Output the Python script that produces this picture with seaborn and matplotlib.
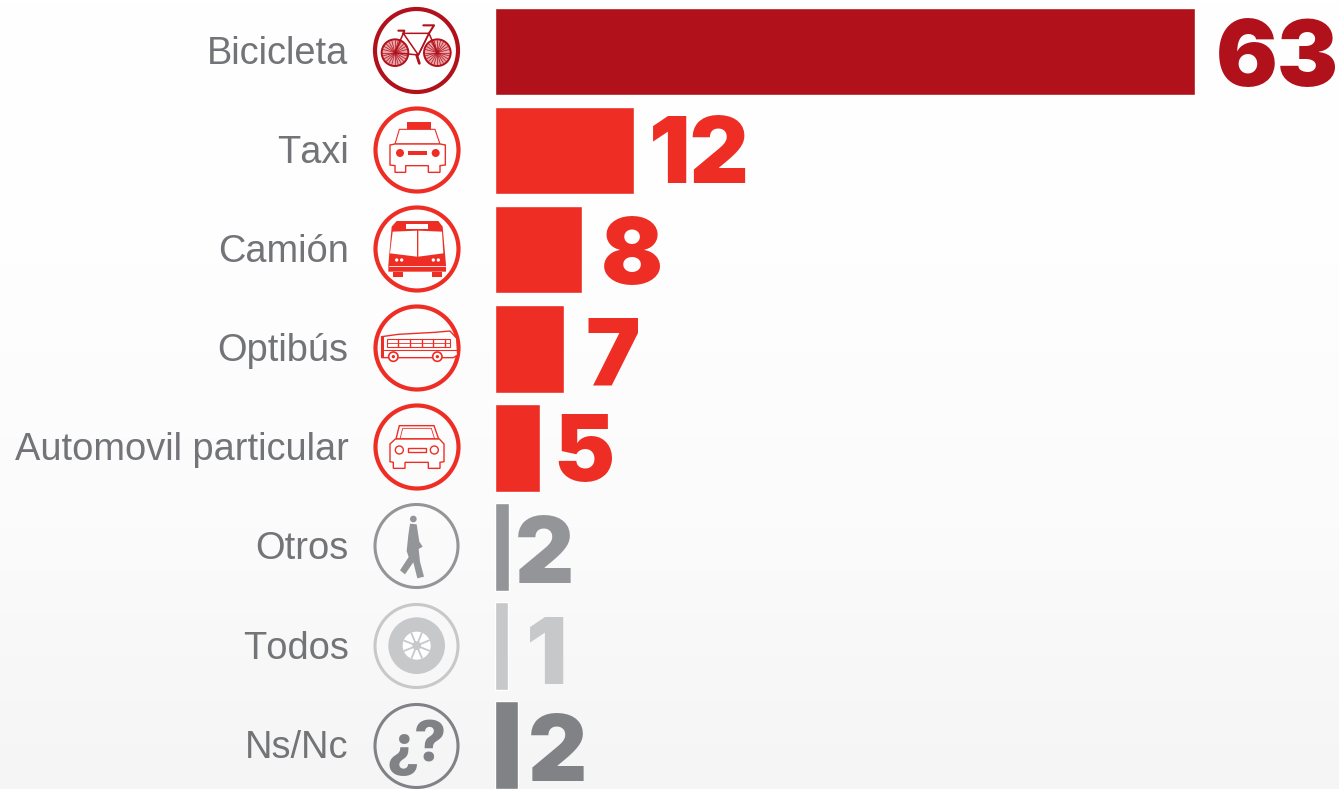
import numpy as np
import pandas as pd
import matplotlib
matplotlib.use("Agg")
import matplotlib.pyplot as plt
from matplotlib.patches import Circle, Polygon
from matplotlib.colors import LinearSegmentedColormap
from matplotlib.transforms import ScaledTranslation
import seaborn as sns

categories = ["Bicicleta", "Taxi", "Camión", "Optibús", "Automovil particular", "Otros", "Todos", "Ns/Nc"]
value_labels = ["63", "12", "8", "7", "5", "2", "1", "2"]
# bar lengths as drawn in the picture (they are not strictly proportional to the labels)
bar_lengths = [63.0, 12.45, 7.75, 6.13, 3.97, 1.26, 1.17, 2.0]
bar_colors = ["#b0111b", "#ee2e24", "#ee2e24", "#ee2e24", "#ee2e24", "#939598", "#c7c8ca", "#808285"]
label_gaps_px = [21, 15, 19, 22, 14, 5, 17, 10]
label_drop_px = [1, -1, 1, 3, 0, 3, 4, 2]

W, H = 1339, 789
PX_PER_UNIT = 699.5 / 63.0
PITCH = 99.0
LEFT = 495.5

sns.set_theme(style="white")
plt.rcParams["font.family"] = ["Liberation Sans", "DejaVu Sans"]
plt.rcParams["text.kerning_factor"] = 20

fig = plt.figure(figsize=(W / 100, H / 100), dpi=100)
fig.patch.set_facecolor("white")

# soft background gradient
bg = fig.add_axes([0, 0, 1, 1], zorder=-1)
cmap = LinearSegmentedColormap.from_list("bg", ["#ffffff", "#fefefe", "#fbfbfb", "#f5f5f5"])
bg.imshow(np.linspace(0, 1, 256).reshape(-1, 1), aspect="auto", cmap=cmap, vmin=0, vmax=1)
bg.axis("off")

ax = fig.add_axes([LEFT / W, 0, (W - LEFT) / W, 1], zorder=1)
ax.patch.set_alpha(0)
df = pd.DataFrame({"cat": categories, "val": bar_lengths})
sns.barplot(data=df, y="cat", x="val", hue="cat", palette=bar_colors, order=categories,
            hue_order=categories, legend=False, width=87.5 / PITCH, saturation=1, ax=ax, orient="h")
ax.set_xlim(0, (W - LEFT) / PX_PER_UNIT)
ax.set_ylim(7 + (H - 745.3) / PITCH, -51.3 / PITCH)
ax.set_xlabel("")
ax.set_ylabel("")
ax.set_xticks([])
ax.tick_params(axis="y", length=0, pad=105.8, labelsize=27.4, labelcolor="#737477")
for t in ax.get_yticklabels():
    t.set_verticalalignment("center")
    t.set_transform(t.get_transform() + ScaledTranslation(0, -2.5 / 100, fig.dpi_scale_trans))
for s in ax.spines.values():
    s.set_visible(False)

for i, (v, lab, col, gap, drop) in enumerate(zip(bar_lengths, value_labels, bar_colors, label_gaps_px, label_drop_px)):
    ax.annotate(lab, xy=(v, i), xytext=(gap * 0.72, -drop * 0.72), textcoords="offset points",
                ha="left", va="center_baseline", fontsize=66, family="Inter", fontweight=900, color=col,
                annotation_clip=False)

# icon layer, in pixel coordinates
ic = fig.add_axes([0, 0, 1, 1], zorder=2)
ic.set_xlim(0, W)
ic.set_ylim(H, 0)
ic.axis("off")
ic.patch.set_alpha(0)

centers = [(416.5, 50.5), (417, 150), (417, 249), (417, 348), (417, 447), (416.5, 546), (416.5, 646), (416.5, 746)]
ring_w = [3.0, 3.0, 3.0, 3.0, 3.0, 2.2, 2.2, 2.2]
for (cx, cy), col, lw in zip(centers, bar_colors, ring_w):
    ic.add_patch(Circle((cx, cy), 41.5, fc="none", ec=col, lw=lw))


def z(x, y, oy):
    return (360 + x / 3.0, oy + y / 3.0)


def poly(pts, oy, fc="none", ec="none", lw=0.8, zo=3):
    ic.add_patch(Polygon([z(x, y, oy) for x, y in pts], closed=True, fc=fc, ec=ec, lw=lw, zorder=zo))


def rect(x0, y0, x1, y1, oy, fc="none", ec="none", lw=0.8, zo=3):
    poly([(x0, y0), (x1, y0), (x1, y1), (x0, y1)], oy, fc, ec, lw, zo)


def circ(x, y, r, oy, fc="none", ec="none", lw=0.8, zo=3):
    ic.add_patch(Circle(z(x, y, oy), r / 3.0, fc=fc, ec=ec, lw=lw, zorder=zo))


def line(pts, oy, col, lw=1.2, zo=3):
    p = [z(x, y, oy) for x, y in pts]
    ic.plot([a for a, _ in p], [b for _, b in p], color=col, lw=lw, zorder=zo, solid_capstyle="round")


# bicycle
c = bar_colors[0]
for wx in (105, 232):
    circ(wx, 158, 40, 0, fc="#e9a5a9", ec=c, lw=1.4)
    for a in np.deg2rad(np.arange(0, 180, 15)):
        line([(wx - 38 * np.cos(a), 158 - 38 * np.sin(a)), (wx + 38 * np.cos(a), 158 + 38 * np.sin(a))], 0, c, 0.5)
line([(105, 158), (130, 100), (207, 100), (175, 165), (130, 100)], 0, c, 1.1)
line([(105, 158), (175, 165), (207, 100), (232, 158)], 0, c, 1.1)
line([(115, 92), (133, 92), (130, 100)], 0, c, 1.5)
line([(190, 76), (222, 76), (207, 100)], 0, c, 1.5)
line([(170, 165), (178, 190)], 0, c, 2.0)

# taxi
c = bar_colors[1]
rect(140, 365, 212, 388, 0, fc=c)
poly([(118, 388), (225, 388), (240, 432), (105, 432)], 0, ec=c)
poly([(90, 435), (105, 432), (240, 432), (256, 435), (256, 495), (240, 497), (240, 517), (205, 517), (205, 497),
      (137, 497), (137, 517), (105, 517), (105, 497), (90, 495)], 0, fc="white", ec=c, lw=1.0)
circ(120, 459, 12, 0, fc=c)
circ(227, 459, 12, 0, fc=c)
rect(143, 453, 200, 466, 0, fc=c)

# city bus
c = bar_colors[2]
poly([(110, 663), (235, 663), (248, 680), (258, 795), (258, 815), (85, 815), (85, 795), (95, 680)], 0, fc=c)
poly([(98, 695), (171, 692), (171, 770), (90, 760)], 0, fc="white")
poly([(175, 692), (246, 695), (250, 760), (175, 770)], 0, fc="white")
rect(138, 672, 205, 687, 0, fc="white")
rect(100, 815, 130, 830, 0, fc=c)
rect(215, 815, 245, 830, 0, fc=c)
for hx in (110, 125, 220, 235):
    circ(hx, 780, 5, 0, fc="white")
line([(88, 797), (255, 797)], 0, "white", 0.6)

# optibus
c = bar_colors[3]
poly([(65, 125), (115, 118), (225, 112), (270, 108), (290, 130), (293, 180), (280, 188), (65, 188)], 295,
     fc="white", ec=c, lw=1.0)
rect(65, 125, 72, 188, 295, fc=c)
rect(82, 133, 270, 155, 295, ec=c, lw=0.8)
for wx in np.arange(115, 265, 35):
    line([(wx, 133), (wx, 155)], 295, c, 1.0)
line([(82, 143), (270, 143)], 295, c, 0.6)
line([(72, 165), (290, 165)], 295, c, 0.8)
for wx in (100, 232):
    circ(wx, 185, 14, 295, fc="white", ec=c, lw=1.2, zo=4)
    circ(wx, 185, 5, 295, fc=c, zo=5)

# private car
c = bar_colors[4]
poly([(118, 392), (222, 392), (236, 432), (108, 432)], 295, ec=c, lw=1.0)
poly([(128, 400), (214, 400), (224, 432), (120, 432)], 295, ec=c, lw=0.6)
poly([(90, 447), (106, 432), (238, 432), (252, 447), (252, 500), (240, 502), (240, 520), (205, 520), (205, 502),
      (135, 502), (135, 520), (100, 520), (100, 502), (90, 500)], 295, fc="white", ec=c, lw=1.0)
circ(118, 465, 12, 295, ec=c, lw=1.0)
circ(223, 465, 12, 295, ec=c, lw=1.0)
rect(143, 458, 198, 472, 295, ec=c, lw=1.0)

# pedestrian
c = bar_colors[5]
circ(160, 672, 10, 295, fc=c)
poly([(150, 686), (170, 688), (178, 740), (188, 755), (176, 762), (180, 800), (192, 845), (172, 850), (160, 802),
      (135, 838), (120, 826), (146, 786), (140, 768), (145, 720)], 295, fc=c)

# tyre
c = bar_colors[6]
circ(170, 167, 85, 590, fc=c)
circ(170, 167, 42, 590, fc="white")
for a in np.deg2rad(np.arange(0, 180, 45) + 22):
    line([(170 - 40 * np.cos(a), 167 - 40 * np.sin(a)), (170 + 40 * np.cos(a), 167 + 40 * np.sin(a))], 590, c, 1.3, 4)
circ(170, 167, 13, 590, fc=c, zo=5)

# question marks
c = bar_colors[7]
ic.text(430, 741, "?", fontsize=40, family="Inter", fontweight=800, color=c, ha="center", va="center_baseline", zorder=4)
ic.text(403, 745, "¿", fontsize=40, family="Inter", fontweight=800, color=c, ha="center", va="center_baseline", zorder=4)

fig.savefig("out.png", dpi=100)
